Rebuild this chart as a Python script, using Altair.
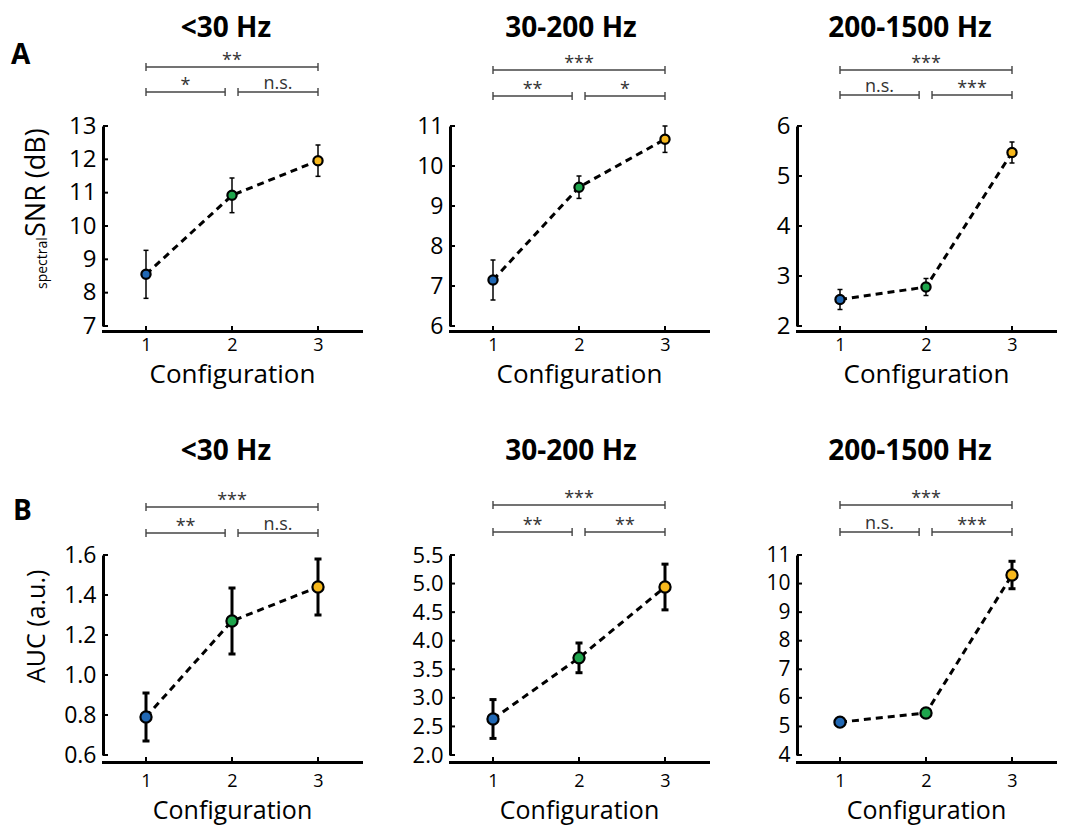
import altair as alt
import pandas as pd

# ---------------- data ----------------
configs = [1, 2, 3]
point_colors = ["#2168b4", "#1ea54c", "#f7b81c"]
band_titles = ["<30 Hz", "30-200 Hz", "200-1500 Hz"]

snr_means = [[8.55, 10.92, 11.96], [7.15, 9.47, 10.67], [2.53, 2.78, 5.47]]
snr_errs = [[0.72, 0.52, 0.47], [0.50, 0.28, 0.33], [0.20, 0.17, 0.21]]
auc_means = [[0.79, 1.27, 1.44], [2.63, 3.70, 4.94], [5.15, 5.47, 10.30]]
auc_errs = [[0.12, 0.165, 0.14], [0.34, 0.26, 0.40], [0.10, 0.12, 0.48]]

comparisons = [(1, 2), (2, 3), (1, 3)]
snr_sig = [["*", "n.s.", "**"], ["**", "*", "***"], ["n.s.", "***", "***"]]
auc_sig = [["**", "n.s.", "***"], ["**", "**", "***"], ["n.s.", "***", "***"]]

snr_ydomains = [[7, 13], [6, 11], [2, 6]]
snr_yticks = [[7, 8, 9, 10, 11, 12, 13], [6, 7, 8, 9, 10, 11], [2, 3, 4, 5, 6]]
snr_yformats = ["d", "d", "d"]
auc_ydomains = [[0.6, 1.6], [2.0, 5.5], [4, 11]]
auc_yticks = [[0.6, 0.8, 1.0, 1.2, 1.4, 1.6],
              [2.0, 2.5, 3.0, 3.5, 4.0, 4.5, 5.0, 5.5],
              [4, 5, 6, 7, 8, 9, 10, 11]]
auc_yformats = [".1f", ".1f", "d"]

# ---------------- layout / style ----------------
FONT = "Open Sans"
W, H = 258, 200
row_style = {
    "A": dict(xoff=5, lpad=5, tpad=7, tsize=26, ew=1.5, cap=5, psize=85, lsize=[24, 23, 24],
              title_y=-89, levels=[(-59, -34), (-56, -30), (-56, -31)]),
    "B": dict(xoff=7, lpad=10, tpad=8, tsize=25, ew=3, cap=7, psize=125, lsize=[23, 22, 21],
              title_y=-95, levels=[(-48, -22), (-50, -23), (-50, -23)]),
}
title_x = [123, 121, 113]


def bracket_ends(a, b):
    x1, x2 = float(a), float(b)
    if b - a == 1:
        if b == 2:
            x2 -= 0.08
        if a == 2:
            x1 += 0.07
    return x1, x2


def panel(row, col, means, errs, sigs, ydom, yticks, yfmt):
    st = row_style[row]
    df = pd.DataFrame({
        "config": configs,
        "value": means,
        "lo": [m - e for m, e in zip(means, errs)],
        "hi": [m + e for m, e in zip(means, errs)],
        "color": point_colors,
    })
    xscale = alt.Scale(domain=[0.5, 3.5], nice=False, zero=False)
    yscale = alt.Scale(domain=ydom, nice=False, zero=False)
    xaxis = alt.Axis(values=configs, format="d", title="Configuration", titleFont=FONT,
                     titleFontSize=st["tsize"], titleFontWeight="normal", titleColor="black",
                     titlePadding=st["tpad"], labelFont=FONT, labelFontSize=18,
                     labelColor="black", labelPadding=st["lpad"], ticks=False, tickSize=0,
                     domainWidth=3, domainColor="black", domainCap="square",
                     offset=st["xoff"], grid=False, labelFlush=False, labelOverlap=False)
    yaxis = alt.Axis(values=yticks, format=yfmt, title="", labelFont=FONT,
                     labelFontSize=st["lsize"][col], labelColor="black", labelPadding=7,
                     ticks=False, tickSize=0, domainWidth=3, domainColor="black",
                     grid=False, labelOverlap=False, labelFlush=False, labelBound=False)
    X = lambda f: alt.X(f, scale=xscale, axis=xaxis)
    Y = lambda f: alt.Y(f, scale=yscale, axis=yaxis)
    base = alt.Chart(df)
    layers = []
    layers.append(base.mark_line(color="black", strokeWidth=3, strokeDash=[7, 5]).encode(
        x=X("config:Q"), y=Y("value:Q")))
    layers.append(base.mark_rule(color="black", strokeWidth=st["ew"]).encode(
        x=X("config:Q"), y=Y("lo:Q"), y2="hi:Q"))
    for f in ["lo:Q", "hi:Q"]:
        layers.append(base.mark_tick(color="black", thickness=st["ew"], size=st["cap"],
                                     orient="horizontal", opacity=1).encode(x=X("config:Q"), y=Y(f)))
    layers.append(base.mark_circle(size=st["psize"], opacity=1, stroke="black", strokeWidth=2.2).encode(
        x=X("config:Q"), y=Y("value:Q"), color=alt.Color("color:N", scale=None)))
    # inward ticks
    layers.append(alt.Chart(pd.DataFrame({"t": yticks})).mark_rule(color="black", strokeWidth=2).encode(
        y=Y("t:Q"), x=alt.value(0), x2=alt.value(5)))
    layers.append(alt.Chart(pd.DataFrame({"c": configs})).mark_rule(color="black", strokeWidth=2).encode(
        x=X("c:Q"), y=alt.value(H + st["xoff"]), y2=alt.value(H + st["xoff"] - 5)))
    # significance brackets
    for (a, b), lab in zip(comparisons, sigs):
        x1, x2 = bracket_ends(a, b)
        lvl_y = st["levels"][col][0] if b - a == 2 else st["levels"][col][1]
        bdf = pd.DataFrame({"x1": [x1], "x2": [x2], "xm": [(x1 + x2) / 2], "label": [lab]})
        layers.append(alt.Chart(bdf).mark_rule(color="#444444", strokeWidth=1.4).encode(
            x=X("x1:Q"), x2="x2:Q", y=alt.value(lvl_y)))
        layers.append(alt.Chart(pd.DataFrame({"e": [x1, x2]})).mark_rule(color="#444444", strokeWidth=1.4).encode(
            x=X("e:Q"), y=alt.value(lvl_y - 4), y2=alt.value(lvl_y + 4)))
        dy = -3 if lab == "n.s." else -1
        layers.append(alt.Chart(bdf).mark_text(font=FONT, fontSize=18, color="#333333",
                                               baseline="alphabetic", align="center").encode(
            x=X("xm:Q"), y=alt.value(lvl_y + dy), text="label:N"))
    # panel title
    layers.append(alt.Chart(pd.DataFrame({"t": [band_titles[col]]})).mark_text(
        font=FONT, fontSize=28, fontWeight="bold", align="center", baseline="alphabetic", color="black").encode(
        x=alt.value(title_x[col]), y=alt.value(st["title_y"]), text="t:N"))
    if col == 0:
        if row == "A":
            layers.append(alt.Chart(pd.DataFrame({"t": ["A"]})).mark_text(
                font=FONT, fontSize=28, fontWeight="bold", align="left", baseline="alphabetic", color="black").encode(
                x=alt.value(-92), y=alt.value(-62), text="t:N"))
            layers.append(alt.Chart(pd.DataFrame({"t": ["SNR (dB)"]})).mark_text(
                font=FONT, fontSize=27, angle=270, align="left", baseline="alphabetic", color="black").encode(
                x=alt.value(-58), y=alt.value(111), text="t:N"))
            layers.append(alt.Chart(pd.DataFrame({"t": ["spectral"]})).mark_text(
                font=FONT, fontSize=14, angle=270, align="left", baseline="alphabetic", color="black").encode(
                x=alt.value(-56), y=alt.value(163), text="t:N"))
        else:
            layers.append(alt.Chart(pd.DataFrame({"t": ["B"]})).mark_text(
                font=FONT, fontSize=28, fontWeight="bold", align="left", baseline="alphabetic", color="black").encode(
                x=alt.value(-90), y=alt.value(-35), text="t:N"))
            layers.append(alt.Chart(pd.DataFrame({"t": ["AUC (a.u.)"]})).mark_text(
                font=FONT, fontSize=25, angle=270, align="left", baseline="alphabetic", color="black").encode(
                x=alt.value(-58), y=alt.value(128), text="t:N"))
    return alt.layer(*layers).properties(width=W, height=H)


row_a = alt.hconcat(*[panel("A", c, snr_means[c], snr_errs[c], snr_sig[c], snr_ydomains[c],
                            snr_yticks[c], snr_yformats[c]) for c in range(3)],
                    spacing=89, bounds="flush")
row_b = alt.hconcat(*[panel("B", c, auc_means[c], auc_errs[c], auc_sig[c], auc_ydomains[c],
                            auc_yticks[c], auc_yformats[c]) for c in range(3)],
                    spacing=89, bounds="flush")

chart = alt.vconcat(row_a, row_b, spacing=429, bounds="flush").properties(
    padding={"left": 3, "top": 7, "right": 5, "bottom": 12}
).configure(font=FONT, background="white").configure_view(strokeWidth=0).configure_axis(
    labelOverlap=False)

chart.save("out.html", embed_options={"renderer": "svg", "actions": False})
